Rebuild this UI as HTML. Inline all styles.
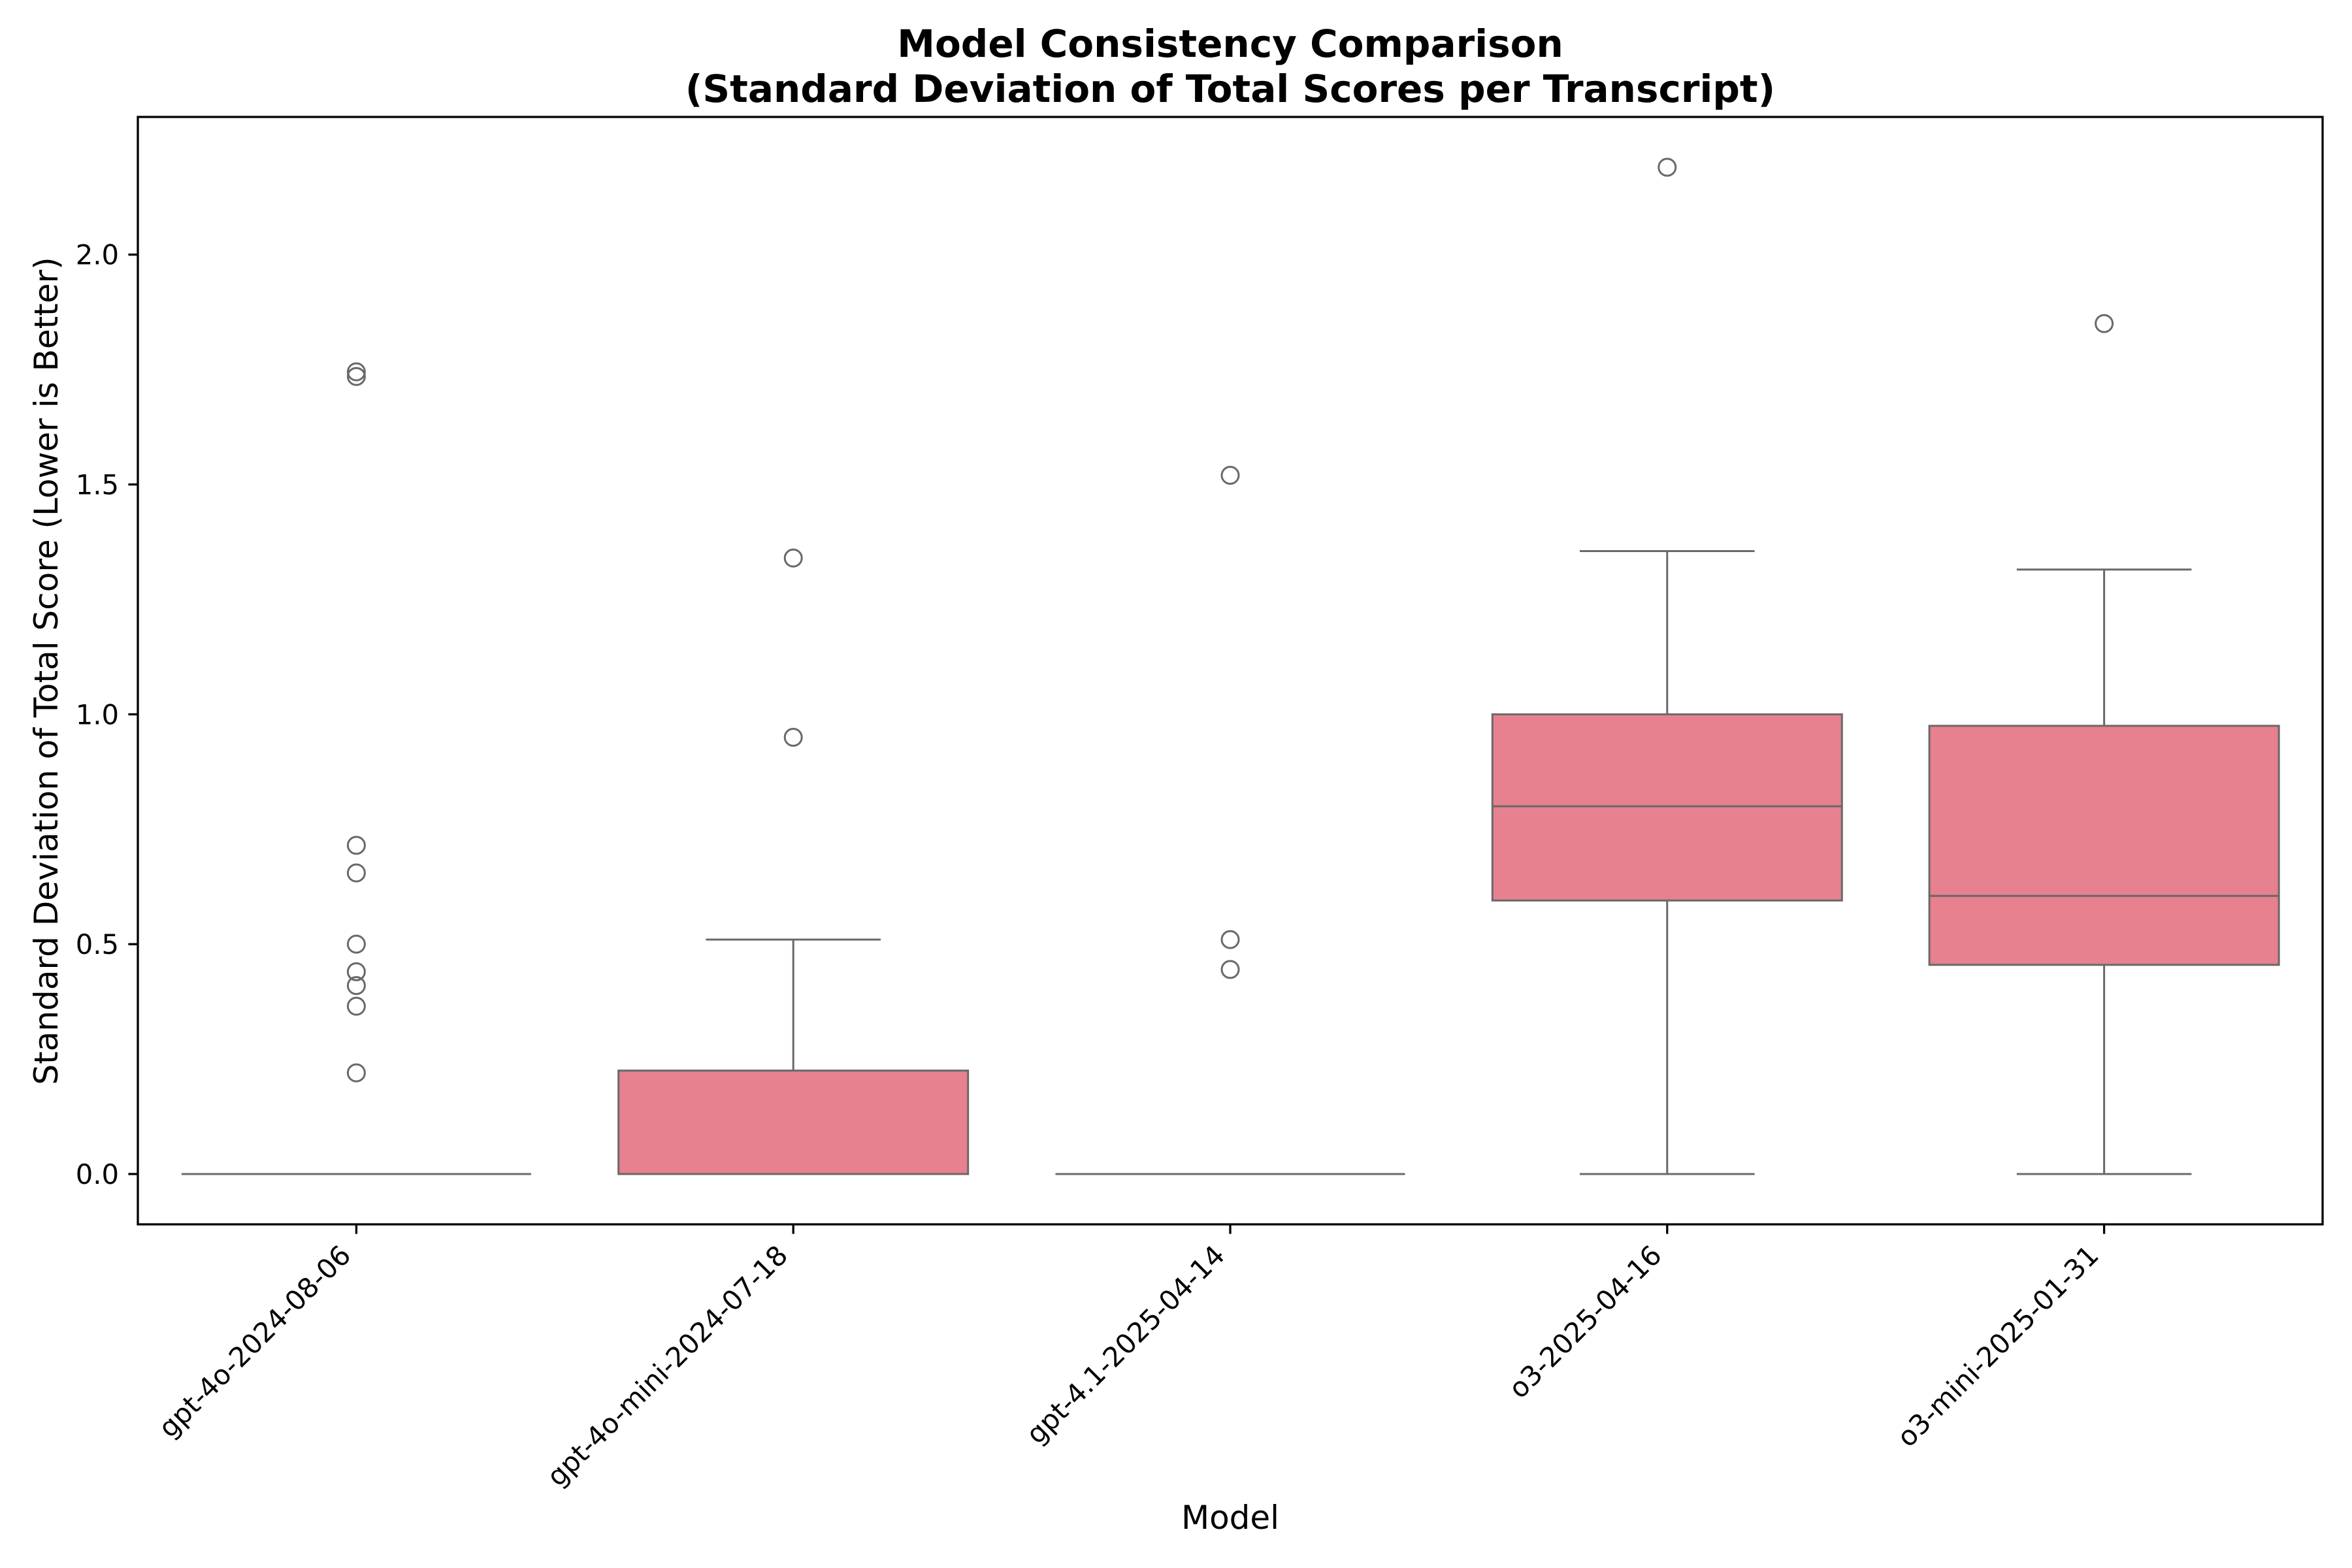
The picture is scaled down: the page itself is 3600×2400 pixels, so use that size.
<!DOCTYPE html>
<html><head><meta charset="utf-8"><style>
html,body{margin:0;padding:0;background:#fff;}
svg{display:block;font-family:"DejaVu Sans","Liberation Sans",sans-serif;}
</style></head><body>
<svg id="chart" width="3600" height="2400" viewBox="0 0 3600 2400" xmlns="http://www.w3.org/2000/svg">
<rect width="3600" height="2400" fill="#fff"/>
<text x="1883" y="87" font-size="58" font-weight="bold" text-anchor="middle">Model Consistency Comparison</text>
<text x="1883" y="156" font-size="58" font-weight="bold" text-anchor="middle">(Standard Deviation of Total Scores per Transcript)</text>
<g id="plot"></g>
<rect x="211" y="179" width="3344" height="1695" fill="none" stroke="#000" stroke-width="3.3"/>
<text x="1883" y="2340" font-size="50" text-anchor="middle">Model</text>
<text transform="translate(88,1027) rotate(-90)" font-size="50" text-anchor="middle">Standard Deviation of Total Score (Lower is Better)</text>
</svg>
<script>
const categories = ["gpt-4o-2024-08-06","gpt-4o-mini-2024-07-18","gpt-4.1-2025-04-14","o3-2025-04-16","o3-mini-2025-01-31"];
const q1Values = [0, 0, 0, 0.595, 0.455];
const medianValues = [0, 0, 0, 0.80, 0.605];
const q3Values = [0, 0.225, 0, 1.0, 0.975];
const whiskerLow = [0, 0, 0, 0, 0];
const whiskerHigh = [0, 0.51, 0, 1.355, 1.315];
const outliers = [
  [1.745, 1.735, 0.715, 0.655, 0.50, 0.44, 0.41, 0.365, 0.22],
  [1.34, 0.95],
  [1.52, 0.51, 0.445],
  [2.19],
  [1.85]
];
const yTicks = [0, 0.5, 1.0, 1.5, 2.0];
const yTickLabels = ["0.0","0.5","1.0","1.5","2.0"];

const L=211,R=3555,T=179,B=1874;
const yMin=-0.1095,yMax=2.2995;
function yS(v){return B-(v-yMin)/(yMax-yMin)*(B-T);}
const step=(R-L)/categories.length;
function xS(i){return L+step*(i+0.5);}
const NS="http://www.w3.org/2000/svg";
const g=document.getElementById('plot');
function mk(tag,attrs,parent){const e=document.createElementNS(NS,tag);for(const k in attrs)e.setAttribute(k,attrs[k]);(parent||g).appendChild(e);return e;}
const GR="#696969", SW=3;

yTicks.forEach((t,i)=>{
  const y=yS(t);
  const tk=mk('line',{x1:L-14.6,x2:L,y1:y,y2:y,stroke:'#000','stroke-width':3.3});
  
  
  const tl=mk('text',{x:L-29,y:y+15,'font-size':41.7,'text-anchor':'end'});
  tl.textContent=yTickLabels[i];
  
  
});

categories.forEach((c,i)=>{
  const cx=xS(i), bw=step*0.8, cw=bw/2;
  const grp=mk('g',{});
  
  
  mk('line',{x1:cx,x2:cx,y1:yS(whiskerLow[i]),y2:yS(q1Values[i]),stroke:GR,'stroke-width':SW},grp);
  mk('line',{x1:cx,x2:cx,y1:yS(q3Values[i]),y2:yS(whiskerHigh[i]),stroke:GR,'stroke-width':SW},grp);
  mk('line',{x1:cx-cw/2,x2:cx+cw/2,y1:yS(whiskerLow[i]),y2:yS(whiskerLow[i]),stroke:GR,'stroke-width':SW},grp);
  mk('line',{x1:cx-cw/2,x2:cx+cw/2,y1:yS(whiskerHigh[i]),y2:yS(whiskerHigh[i]),stroke:GR,'stroke-width':SW},grp);
  mk('rect',{x:cx-bw/2,y:yS(q3Values[i]),width:bw,height:Math.max(0,yS(q1Values[i])-yS(q3Values[i])),fill:'#e7808f',stroke:GR,'stroke-width':SW},grp);
  mk('line',{x1:cx-bw/2,x2:cx+bw/2,y1:yS(medianValues[i]),y2:yS(medianValues[i]),stroke:GR,'stroke-width':SW},grp);
  outliers[i].forEach(v=>{
    const o=mk('circle',{cx:cx,cy:yS(v),r:13,fill:'none',stroke:GR,'stroke-width':3},grp);
    
    
  });
  const tk=mk('line',{x1:cx,x2:cx,y1:B,y2:B+14.6,stroke:'#000','stroke-width':3.3});
  
  
  const tl=mk('text',{'font-size':41.7,'text-anchor':'end',transform:'translate('+(cx-6)+','+(B+50)+') rotate(-45)'});
  tl.textContent=c;
  
  
});
</script>
</body></html>
